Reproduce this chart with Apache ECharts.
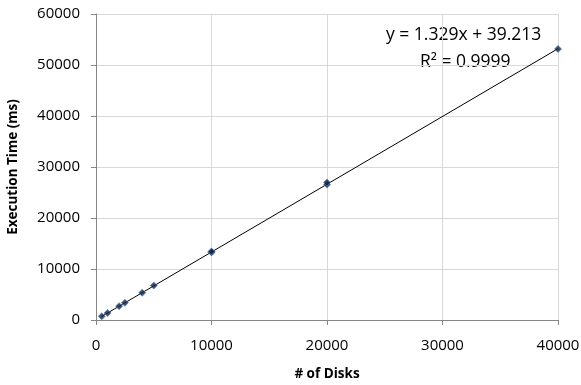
<!DOCTYPE html>
<html><head><meta charset="utf-8">
<script src="https://cdn.jsdelivr.net/npm/echarts@6/dist/echarts.min.js"></script>
<style>html,body{margin:0;padding:0;background:#fff}#c{width:581px;height:385px}</style>
</head><body><div id="c"></div>
<script>
const disks = [500, 1000, 2000, 2500, 4000, 5000, 10000, 10000, 20000, 20000, 40000];
const timesMs = [720, 1360, 2720, 3370, 5350, 6750, 13250, 13450, 26550, 26950, 53150];
const xTicks = [0, 10000, 20000, 30000, 40000];
const yTicks = [0, 10000, 20000, 30000, 40000, 50000, 60000];
const slope = 1.329, intercept = 39.213;
const eqText = 'y = 1.329x + 39.213';
const r2Text = 'R² = 0.9999';
const trendX = [500, 40000];

const pts = disks.map((x, i) => [x, timesMs[i]]);
const trend = trendX.map(x => [x, slope * x + intercept]);
const font = 'Open Sans';
const chart = echarts.init(document.getElementById('c'));
chart.setOption({
  animation: false,
  grid: {left: 96, right: 23, top: 14, bottom: 65, containLabel: false, outerBoundsMode: 'none'},
  xAxis: {
    type: 'value', min: xTicks[0], max: xTicks[xTicks.length - 1], interval: 10000,
    name: '# of Disks', nameLocation: 'middle', nameGap: 47,
    nameTextStyle: {fontFamily: font, fontSize: 13.5, fontWeight: 'bold', color: '#000'},
    axisLine: {show: true, lineStyle: {color: '#868686'}},
    axisTick: {show: true, length: 5, lineStyle: {color: '#868686'}},
    axisLabel: {fontFamily: font, fontSize: 15, color: '#000', margin: 18, formatter: v => String(v)},
    splitLine: {show: true, lineStyle: {color: '#d9d9d9'}}
  },
  yAxis: {
    type: 'value', min: yTicks[0], max: yTicks[yTicks.length - 1], interval: 10000,
    name: 'Execution Time (ms)', nameLocation: 'middle', nameGap: 76,
    nameTextStyle: {fontFamily: font, fontSize: 13.5, fontWeight: 'bold', color: '#000'},
    axisLine: {show: true, lineStyle: {color: '#868686'}},
    axisTick: {show: true, length: 5, inside: false, lineStyle: {color: '#868686'}},
    axisLabel: {fontFamily: font, fontSize: 15, color: '#000', margin: 16, formatter: v => String(v)},
    splitLine: {show: true, lineStyle: {color: '#d9d9d9'}}
  },
  series: [
    {type: 'line', data: trend, symbol: 'none', silent: true,
     lineStyle: {color: '#000', width: 1}, z: 2},
    {type: 'scatter', data: pts, symbol: 'diamond', symbolSize: 7,
     itemStyle: {color: '#14233f', borderColor: '#4a7ebb', borderWidth: 0.8}, z: 3}
  ],
  graphic: [
    {type: 'text', left: 386, top: 26, style: {text: eqText, font: '17.5px "' + font + '"', fill: '#000'}},
    {type: 'text', left: 420, top: 53, style: {text: r2Text, font: '17.5px "' + font + '"', fill: '#000'}}
  ]
});
</script></body></html>
